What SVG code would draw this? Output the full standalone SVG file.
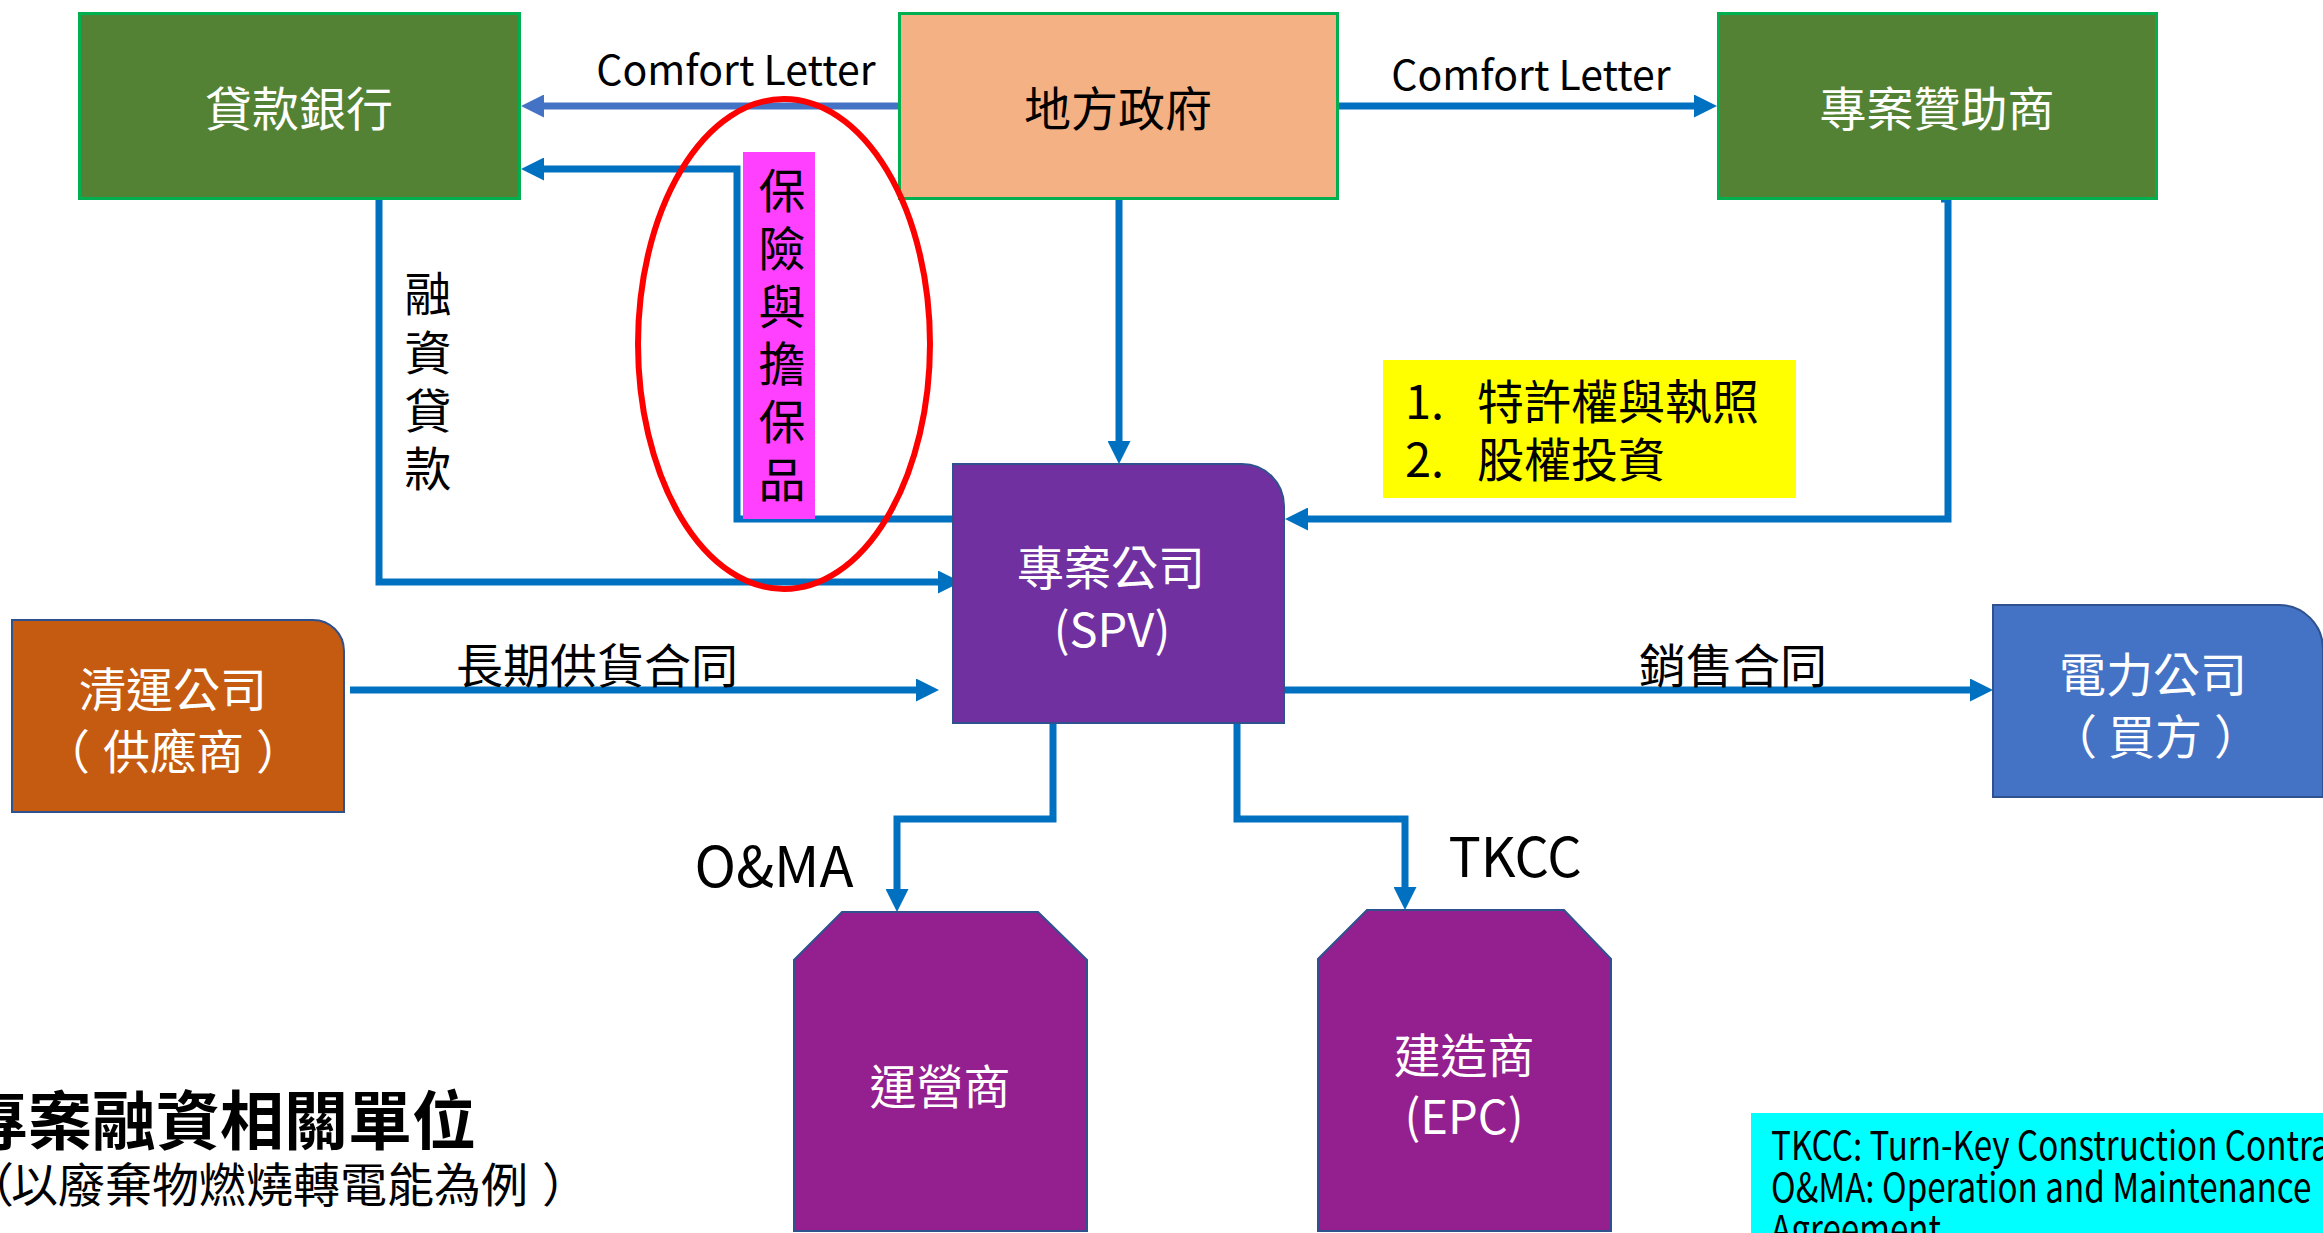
<svg xmlns="http://www.w3.org/2000/svg" width="2323" height="1233" viewBox="0 0 2323 1233">
<defs>
<style>
text{font-family:"Noto Sans CJK TC","Noto Sans CJK SC",sans-serif;}
.cjk{font-size:47px;dominant-baseline:central;text-anchor:middle;}
.cjs{font-size:47px;dominant-baseline:central;}
.w{fill:#FFFFFF;}
.k{fill:#000000;}
.lat{font-size:41px;text-anchor:middle;fill:#000;}
.green{fill:#548235;stroke:#00B050;stroke-width:3;}
.conn{fill:none;stroke:#0070C0;stroke-width:7;stroke-linejoin:miter;}
.edge{stroke:#2F528F;stroke-width:2;}
</style>
<marker id="ah" markerUnits="userSpaceOnUse" markerWidth="23" markerHeight="23" refX="5" refY="11.5" orient="auto">
<path d="M0,0 L23,11.5 L0,23 Z" fill="#0070C0"/>
</marker>
<marker id="ahl" markerUnits="userSpaceOnUse" markerWidth="23" markerHeight="23" refX="5" refY="11.5" orient="auto">
<path d="M0,0 L23,11.5 L0,23 Z" fill="#4472C4"/>
</marker>
</defs>
<rect width="2323" height="1233" fill="#FFFFFF"/>

<g id="connectors">
<path id="c-gov-bank" d="M898,106 H539" fill="none" stroke="#4472C4" stroke-width="7" marker-end="url(#ahl)"/>
<path id="c-gov-sponsor" class="conn" d="M1339,106 H1699" marker-end="url(#ah)"/>
<path id="c-gov-spv" class="conn" d="M1119,200 V446" marker-end="url(#ah)"/>
<path id="c-spv-bank" class="conn" d="M953,519 H737 V169 H539" marker-end="url(#ah)"/>
<path id="c-bank-spv" class="conn" d="M362,183 H379 V582 H943" marker-end="url(#ah)"/>
<path id="c-sponsor-spv" class="conn" d="M1941,199 H1948 V519 H1303" marker-end="url(#ah)"/>
<path id="c-supplier-spv" class="conn" d="M350,690 H921" marker-end="url(#ah)"/>
<path id="c-spv-power" class="conn" d="M1284,690 H1975" marker-end="url(#ah)"/>
<path id="c-spv-operator" class="conn" d="M1053,719 V819 H897 V894" marker-end="url(#ah)"/>
<path id="c-spv-epc" class="conn" d="M1237,719 V819 H1405 V892" marker-end="url(#ah)"/>
</g>

<g id="labels">
<text class="lat" x="736" y="85">Comfort Letter</text>
<text class="lat" x="1531" y="90">Comfort Letter</text>
<text class="cjk k"><tspan x="428" y="290">融</tspan><tspan x="428" y="349">資</tspan><tspan x="428" y="407">貸</tspan><tspan x="428" y="465">款</tspan></text>
<rect x="743" y="152" width="72" height="367" fill="#FF40FF"/>
<text class="cjk k"><tspan x="782" y="187">保</tspan><tspan x="782" y="245">險</tspan><tspan x="782" y="303">與</tspan><tspan x="782" y="360">擔</tspan><tspan x="782" y="418">保</tspan><tspan x="782" y="476">品</tspan></text>
<text class="cjk k" x="597" y="662">長期供貨合同</text>
<text class="cjk k" x="1733" y="662">銷售合同</text>
<text x="774" y="887" font-size="56" text-anchor="middle" fill="#000">O&amp;MA</text>
<text x="1515" y="877" font-size="54" text-anchor="middle" fill="#000">TKCC</text>
</g>

<g id="bank">
<rect class="green" x="79.5" y="13.5" width="440" height="185"/>
<text class="cjk w" x="299" y="105">貸款銀行</text>
</g>
<g id="gov">
<rect x="899.5" y="13.5" width="438" height="185" fill="#F4B183" stroke="#00B050" stroke-width="3"/>
<text class="cjk k" x="1118" y="105">地方政府</text>
</g>
<g id="sponsor">
<rect class="green" x="1718.5" y="13.5" width="438" height="185"/>
<text class="cjk w" x="1937" y="105">專案贊助商</text>
</g>
<g id="spv">
<path class="edge" d="M953,464 H1242 A42,42 0 0 1 1284,506 V723 H953 Z" fill="#7030A0"/>
<text class="cjk w" x="1111" y="564">專案公司</text>
<text class="cjk w" x="1112" y="626">(SPV)</text>
</g>
<g id="supplier">
<path class="edge" d="M12,620 H313 A31,31 0 0 1 344,651 V812 H12 Z" fill="#C55A11"/>
<text class="cjk w" x="173" y="686">清運公司</text>
<text class="cjs w" x="43 103 150 197 256" y="748">（供應商）</text>
</g>
<g id="power">
<path class="edge" d="M1993,605 H2279 A44,44 0 0 1 2323,649 V797 H1993 Z" fill="#4472C4"/>
<text class="cjk w" x="2153" y="671">電力公司</text>
<text class="cjs w" x="2050 2108 2155 2214" y="733">（買方）</text>
</g>
<g id="operator">
<path class="edge" d="M842,912 H1038 L1087,960 V1231 H794 V960 Z" fill="#941F8E"/>
<text class="cjk w" x="940" y="1083">運營商</text>
</g>
<g id="epc">
<path class="edge" d="M1367,910 H1564 L1611,959 V1231 H1318 V959 Z" fill="#941F8E"/>
<text class="cjk w" x="1464" y="1052">建造商</text>
<text class="cjk w" x="1464" y="1113">(EPC)</text>
</g>
<g id="license-note">
<rect x="1383" y="360" width="413" height="138" fill="#FFFF00"/>
<text class="k" font-size="47" dominant-baseline="central" y="398"><tspan x="1405">1.</tspan><tspan x="1477">特許權與執照</tspan></text>
<text class="k" font-size="47" dominant-baseline="central" y="456"><tspan x="1405">2.</tspan><tspan x="1477">股權投資</tspan></text>
</g>
<g id="highlight">
<ellipse cx="784" cy="344" rx="146" ry="245" fill="none" stroke="#FF0000" stroke-width="6"/>
</g>
<g id="title">
<text x="-36" y="1116" font-size="64" font-weight="700" dominant-baseline="central" fill="#000">專案融資相關單位</text>
<text x="-33 11 58 105 152 199 246 293 340 387 434 481 542" y="1181" font-size="47" dominant-baseline="central" fill="#000">（以廢棄物燃燒轉電能為例）</text>
</g>
<g id="legend">
<rect x="1751" y="1113" width="572" height="120" fill="#00FFFF"/>
<text font-size="40" fill="#000" transform="translate(1771,0) scale(0.83,1)"><tspan x="0" y="1160">TKCC: Turn-Key Construction Contract</tspan><tspan x="0" y="1202">O&amp;MA: Operation and Maintenance</tspan><tspan x="0" y="1244">Agreement</tspan></text>
</g>
</svg>
